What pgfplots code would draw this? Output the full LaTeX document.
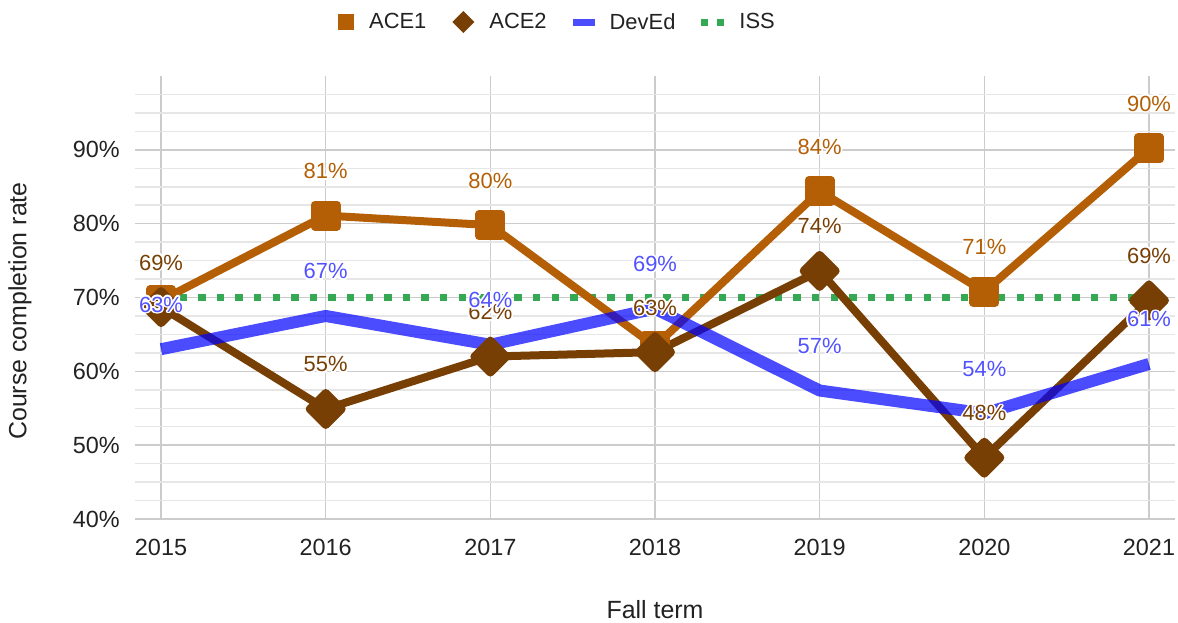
\documentclass[border=0pt]{standalone}
\usepackage{fontspec}
\setmainfont{Liberation Sans}
\usepackage{pgfplots}
\pgfplotsset{compat=1.18}
\usepackage{contour}
\contourlength{1.6bp}
\definecolor{aceone}{HTML}{B45F06}
\definecolor{acetwo}{HTML}{783F04}
\definecolor{deved}{HTML}{0000FF}
\definecolor{devedlab}{HTML}{5252FF}
\definecolor{iss}{HTML}{34A853}
\definecolor{txt}{HTML}{222222}
\definecolor{majgrid}{HTML}{CCCCCC}
\definecolor{mingrid}{HTML}{E6E6E6}
\newcommand{\lblfont}{\fontsize{22}{26}\selectfont}
\begin{document}
\begin{tikzpicture}
\useasboundingbox (-135bp,-104bp) rectangle (1043bp,519bp);
\begin{axis}[
  at={(0,0)}, anchor=south west,
  scale only axis, width=1040bp, height=443bp,
  xmin=2014.842, xmax=2021.158, ymin=40, ymax=100,
  xtick={2015,2016,2017,2018,2019,2020,2021},
  ytick={40,50,60,70,80,90},
  minor ytick={42.5,45,47.5,52.5,55,57.5,62.5,65,67.5,72.5,75,77.5,82.5,85,87.5,92.5,95,97.5},
  xmajorgrids, ymajorgrids, yminorgrids,
  major grid style={majgrid, line width=1.5bp},
  minor grid style={mingrid, line width=1.5bp},
  axis line style={draw=none},
  major tick length=0pt, minor tick length=0pt,
  /pgf/number format/assume math mode=true,
  /pgf/number format/1000 sep={},
  yticklabel={\pgfmathprintnumber{\tick}\%},
  ticklabel style={font=\fontsize{23.5}{28}\selectfont, text=txt},
  yticklabel style={anchor=east, inner sep=0pt, xshift=-15bp},
  xticklabel style={anchor=base, inner sep=0pt, yshift=-36bp},
  xlabel={Fall term}, ylabel={Course completion rate},
  label style={font=\fontsize{25}{29}\selectfont, text=txt},
  xlabel style={at={(axis description cs:0.5,-0.205)}, anchor=center},
  ylabel style={at={(axis description cs:-0.1106,0.4695)}, anchor=center},
  legend style={at={(0.1923,1.1219)}, anchor=west, draw=none, fill=none,
    font=\fontsize{22}{26}\selectfont, text=txt, legend columns=4,
    /tikz/every odd column/.append style={column sep=13bp},
    /tikz/every even column/.append style={column sep=24bp}},
  clip=false,
]
% ISS
\addplot[forget plot, iss, line width=7.3bp, dash pattern=on 7.3bp off 11.3bp]
  coordinates {(2015,70) (2016,70) (2017,70) (2018,70) (2019,70) (2020,70) (2021,70)};
% ACE1
\addplot[forget plot, aceone, line width=8bp, line join=round, mark=square*, mark size=11bp, mark options={solid}]
  coordinates {(2015,69.6) (2016,81.1) (2017,79.8) (2018,63.4) (2019,84.4) (2020,70.8) (2021,90.2)};
% ACE2
\addplot[forget plot, acetwo, line width=8bp, line join=round, mark=square*, mark size=11.3bp, mark options={solid, rotate=45}]
  coordinates {(2015,68.7) (2016,54.9) (2017,62.0) (2018,62.6) (2019,73.6) (2020,48.3) (2021,69.6)};
% DevEd
\addplot[forget plot, deved, opacity=0.7, line width=12bp, line join=round]
  coordinates {(2015,63.0) (2016,67.5) (2017,63.6) (2018,68.5) (2019,57.4) (2020,54.3) (2021,61.0)};
% labels
\addplot[forget plot, draw=none, no marks, nodes near coords={\contour{white}{\pgfplotspointmeta}}, point meta=explicit symbolic,
  every node near coord/.append style={text=aceone, anchor=base, yshift=37bp, font=\lblfont, inner sep=0pt}]
  coordinates {(2016,81.1) [81\%] (2017,79.8) [80\%] (2019,84.4) [84\%] (2020,70.8) [71\%] (2021,90.2) [90\%]};
\addplot[forget plot, draw=none, no marks, nodes near coords={\contour{white}{\pgfplotspointmeta}}, point meta=explicit symbolic,
  every node near coord/.append style={text=acetwo, anchor=base, yshift=37bp, font=\lblfont, inner sep=0pt}]
  coordinates {(2015,68.7) [69\%] (2016,54.9) [55\%] (2017,62.0) [62\%] (2018,62.6) [63\%] (2019,73.6) [74\%] (2020,48.3) [48\%] (2021,69.6) [69\%]};
\addplot[forget plot, draw=none, no marks, nodes near coords={\contour{white}{\pgfplotspointmeta}}, point meta=explicit symbolic,
  every node near coord/.append style={text=devedlab, anchor=base, yshift=37bp, font=\lblfont, inner sep=0pt}]
  coordinates {(2015,63.0) [63\%] (2016,67.5) [67\%] (2017,63.6) [64\%] (2018,68.5) [69\%] (2019,57.4) [57\%] (2020,54.3) [54\%] (2021,61.0) [61\%]};
% legend
\addlegendimage{draw=none, mark=none, legend image code/.code={\node[inner sep=0pt, minimum width=16bp, minimum height=16bp, fill=aceone] at (8bp,0bp) {};}}
\addlegendentry{ACE1}
\addlegendimage{draw=none, mark=none, legend image code/.code={\fill[acetwo] (0bp,0bp) -- (11bp,11bp) -- (22bp,0bp) -- (11bp,-11bp) -- cycle;}}
\addlegendentry{ACE2}
\addlegendimage{draw=none, mark=none, legend image code/.code={\fill[deved, opacity=0.7] (0bp,-3.5bp) rectangle (22bp,3.5bp);}}
\addlegendentry{DevEd}
\addlegendimage{draw=none, mark=none, legend image code/.code={\fill[iss] (0bp,-3.5bp) rectangle (7bp,3.5bp); \fill[iss] (16bp,-3.5bp) rectangle (23bp,3.5bp);}}
\addlegendentry{ISS}
\end{axis}
\end{tikzpicture}
\end{document}
